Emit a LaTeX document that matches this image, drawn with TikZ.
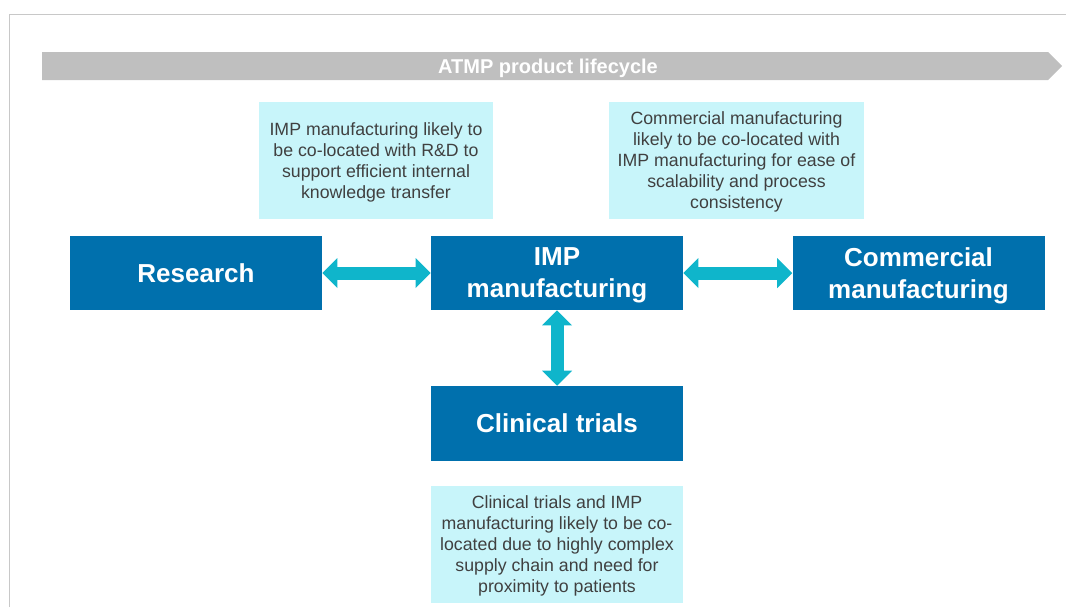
\documentclass[tikz,border=0pt]{standalone}
\usepackage{fontspec}
\setmainfont{Liberation Sans}
\usetikzlibrary{arrows.meta}
\definecolor{boxblue}{RGB}{0,112,173}
\definecolor{arrowcyan}{RGB}{15,181,203}
\definecolor{notecyan}{RGB}{200,245,250}
\definecolor{bannergrey}{RGB}{191,191,191}
\definecolor{framegrey}{RGB}{200,200,200}
\definecolor{notetext}{RGB}{64,64,64}
\def\boxwidth{189pt}

\begin{document}
\begin{tikzpicture}[x=0.75pt, y=-0.75pt, >={Triangle[width=22.5pt,length=11.25pt,line width=0pt]}]
  \tikzstyle{stage}=[rectangle, fill=boxblue, text=white, font=\fontsize{19.5}{24}\selectfont\bfseries, align=center, minimum width=\boxwidth, minimum height=55.5pt, inner sep=0pt, text depth=0pt]
  \tikzstyle{note}=[rectangle, fill=notecyan, text=notetext, font=\fontsize{13.3}{15.75}\selectfont, align=center, minimum height=87.75pt, inner sep=0pt, text depth=0pt]
  \tikzstyle{link}=[<->, draw=arrowcyan, line width=9.75pt]

  \useasboundingbox (0,0) rectangle (1066,607);
  \draw[framegrey, line width=0.75pt] (9,607) -- (9,14) -- (1066,14);

  \fill[bannergrey] (42,52) -- (1048,52) -- (1062,66) -- (1048,80) -- (42,80) -- cycle;
  \node[text=white, font=\fontsize{15}{18}\selectfont\bfseries] (life) at (548,68) {ATMP product lifecycle};

  \foreach \name / \x / \txt in {res/196/Research, imp/557/{IMP\\manufacturing}, com/918.5/{Commercial\\manufacturing}}
    \node[stage] (\name) at (\x,273) {\txt};

  \node[stage, minimum height=56.25pt] (cli) at (557,423.5) {Clinical trials};

  \node[note, minimum width=175.5pt] (n-res) at (376,160.5) {IMP manufacturing likely to\\be co-located with R\&D to\\support efficient internal\\knowledge transfer};
  \node[note, minimum width=191.25pt] (n-com) at (736.5,160.5) {Commercial manufacturing\\likely to be co-located with\\IMP manufacturing for ease of\\scalability and process\\consistency};
  \node[note, minimum width=\boxwidth] (n-cli) at (557,544.5) {Clinical trials and IMP\\manufacturing likely to be co-\\located due to highly complex\\supply chain and need for\\proximity to patients};

  \foreach \source / \dest in {res/imp, imp/com, imp/cli}
    \draw[link] (\source) -- (\dest);
\end{tikzpicture}
\end{document}
